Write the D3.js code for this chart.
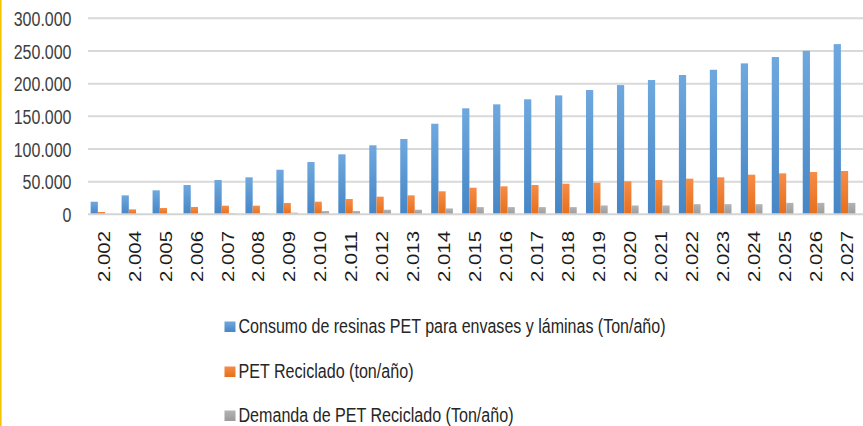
<!DOCTYPE html>
<html>
<head>
<meta charset="utf-8">
<script src="https://cdn.jsdelivr.net/npm/d3@7/dist/d3.min.js"></script>
<style>
  html, body { margin: 0; padding: 0; background: #fff; }
  svg { display: block; }
</style>
</head>
<body>
<svg id="chart" width="863" height="426"></svg>
<script>
// Years shown on the category axis (2003 is absent in the series)
const years = ["2.002","2.004","2.005","2.006","2.007","2.008","2.009","2.010","2.011","2.012","2.013",
               "2.014","2.015","2.016","2.017","2.018","2.019","2.020","2.021","2.022","2.023","2.024",
               "2.025","2.026","2.027"];

// Consumo de resinas PET para envases y láminas (Ton/año)
const consumo = [19300, 29000, 36700, 44800, 52500, 56600, 68200, 80000, 91800, 105600, 115200,
                 138600, 162200, 168300, 176000, 182000, 190200, 197800, 205500, 213200, 221200,
                 231000, 240700, 250300, 260500];

// PET Reciclado (ton/año)
const reciclado = [3500, 7600, 9600, 11200, 13200, 13200, 17300, 19300, 23400, 27000, 29000,
                   35200, 40700, 42800, 44800, 46800, 48400, 50500, 52500, 54500, 56600,
                   60600, 62700, 64700, 66300];

// Demanda de PET Reciclado (Ton/año)
const demanda = [0, 0, 0, 0, 1500, 1500, 2500, 5000, 5000, 7000, 7000,
                 9000, 11000, 11000, 11000, 11000, 13500, 13500, 13500, 15500, 15500,
                 15500, 17500, 17500, 17500];

const seriesNames = [
  "Consumo de resinas PET para envases y láminas (Ton/año)",
  "PET Reciclado (ton/año)",
  "Demanda de PET Reciclado (Ton/año)"
];
const seriesValues = [consumo, reciclado, demanda];

const yTicks = [0, 50000, 100000, 150000, 200000, 250000, 300000];
const yTickLabels = ["0", "50.000", "100.000", "150.000", "200.000", "250.000", "300.000"];

const palette = [
  { top: "#6ea8de", bottom: "#4686c6" },
  { top: "#f68c47", bottom: "#e56f1c" },
  { top: "#b3b3b3", bottom: "#9b9b9b" }
];

const svg = d3.select("#chart");
const fontStack = "'Liberation Sans', Arial, sans-serif";
const vStretch = 1.22;

// frame accent on the left edge
svg.append("rect").attr("x", 0).attr("y", 0).attr("width", 1.6).attr("height", 426).attr("fill", "#f5c400");

const x = d3.scaleBand().domain(years).range([86, 860]).paddingInner(0.3).paddingOuter(0.15);
const xs = d3.scaleBand().domain(d3.range(3)).range([0, x.bandwidth()]);
const y = d3.scaleLinear().domain([0, 300000]).range([214.3, 18.3]);

// gradients for bars
const defs = svg.append("defs");
palette.forEach((p, i) => {
  const g = defs.append("linearGradient").attr("id", "grad" + i)
    .attr("x1", 0).attr("y1", 0).attr("x2", 0).attr("y2", 1);
  g.append("stop").attr("offset", "0%").attr("stop-color", p.top);
  g.append("stop").attr("offset", "100%").attr("stop-color", p.bottom);
});

// horizontal gridlines
svg.append("g").selectAll("line").data(yTicks.slice(1)).join("line")
  .attr("x1", 88).attr("x2", 863)
  .attr("y1", d => y(d)).attr("y2", d => y(d))
  .attr("stroke", "#d9d9d9").attr("stroke-width", 2);

// y-axis labels
const yAxis = svg.append("g");
yTicks.forEach((t, i) => {
  yAxis.append("g")
    .attr("transform", `translate(71.5, ${y(t) + 7.6}) scale(1, ${vStretch})`)
    .append("text")
    .attr("text-anchor", "end")
    .attr("font-family", fontStack)
    .attr("font-size", 16)
    .attr("fill", "#404040")
    .text(yTickLabels[i]);
});

// bars
const groups = svg.append("g").selectAll("g").data(years).join("g")
  .attr("transform", d => `translate(${x(d)},0)`);
groups.selectAll("rect")
  .data((d, i) => seriesValues.map((vals, s) => ({ s, v: vals[i] })))
  .join("rect")
  .attr("x", d => xs(d.s))
  .attr("width", xs.bandwidth())
  .attr("y", d => y(d.v))
  .attr("height", d => y(0) - y(d.v))
  .attr("fill", d => `url(#grad${d.s})`);

// baseline
svg.append("line").attr("x1", 88).attr("x2", 863).attr("y1", y(0)).attr("y2", y(0))
  .attr("stroke", "#d4d4d4").attr("stroke-width", 2);

// x-axis labels, rotated
svg.append("g").selectAll("text").data(years).join("text")
  .attr("transform", d => `translate(${x(d) + x.bandwidth() / 2 + 8.2}, 231) rotate(-90)`)
  .attr("text-anchor", "end")
  .attr("font-family", fontStack)
  .attr("font-size", 17)
  .attr("fill", "#1a1a1a")
  .attr("textLength", 51)
  .attr("lengthAdjust", "spacingAndGlyphs")
  .text(d => d);

// legend
const legendRows = [327, 372, 416];
const legendWidths = [427, 175, 275];
const legend = svg.append("g");
seriesNames.forEach((name, i) => {
  legend.append("rect")
    .attr("x", 224.5).attr("y", legendRows[i] - 5.5)
    .attr("width", 11).attr("height", 10.5)
    .attr("fill", `url(#grad${i})`);
  legend.append("g")
    .attr("transform", `translate(238.5, ${legendRows[i] + 5.5}) scale(1, ${vStretch})`)
    .append("text")
    .attr("font-family", fontStack)
    .attr("font-size", 16)
    .attr("fill", "#262626")
    .attr("textLength", legendWidths[i])
    .attr("lengthAdjust", "spacingAndGlyphs")
    .text(name);
});
</script>
</body>
</html>
